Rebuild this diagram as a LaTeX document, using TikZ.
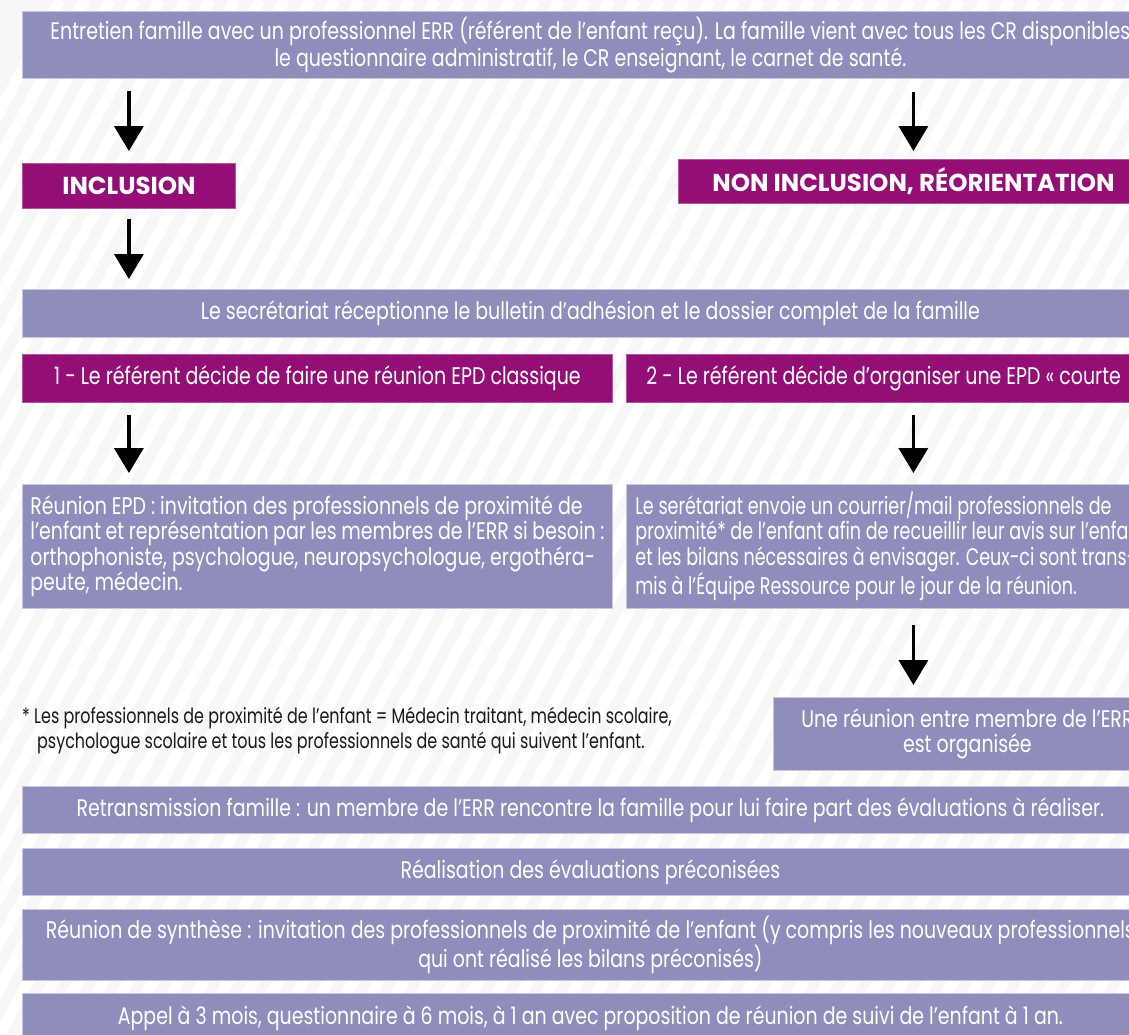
\documentclass[tikz,border=0pt]{standalone}
\usepackage{fontspec}
\setmainfont{Poppins}[FakeStretch=0.79]
\newfontfamily\headfont{Poppins}[FakeStretch=1.0]
\newfontfamily\notefont{Poppins}[FakeStretch=0.76]
\newfontfamily\narrowfont{Poppins}[FakeStretch=0.73]
\usetikzlibrary{arrows.meta}
\definecolor{lav}{RGB}{143,141,187}
\definecolor{lavedge}{RGB}{200,198,224}
\definecolor{mag}{RGB}{147,15,118}
\definecolor{bgc}{RGB}{247,247,247}
\tikzset{
  boxbase/.style={rectangle, anchor=north west, inner sep=0pt, text=white,
    draw=lavedge, line width=0.8pt},
  lavbox/.style={boxbase, fill=lav, font=\fontsize{24}{27}\selectfont, align=center},
  magbox/.style={boxbase, fill=mag, draw=mag!70!white, font=\fontsize{24}{27}\selectfont, align=center},
  headbox/.style={boxbase, fill=mag, draw=mag!70!white, font=\headfont\bfseries\fontsize{24.5}{28}\selectfont, align=center},
  leftbox/.style={boxbase, fill=lav, font=\fontsize{24}{25.5}\selectfont, align=flush left},
  arr/.style={draw=black, line width=3.6pt, -{Triangle[width=29pt,length=25pt]}},
  stripe/.style={draw=white, line width=11pt},
  note/.style={anchor=north west, inner sep=0pt, align=flush left, text=black!90,
    font=\notefont\fontsize{21}{25}\selectfont}
}
\begin{document}
\begin{tikzpicture}[x=1pt,y=-1pt]
\useasboundingbox (0,0) rectangle (1129,1034);
\begin{scope}
\clip (0,0) rectangle (1129,1034);
\fill[bgc] (0,0) rectangle (1129,1034);
\foreach \i in {-20,...,46} {
  \draw[stripe] (\i*25,1034) -- ++(560,-1034);
}

% boxes
\node[lavbox, minimum width=1136pt, minimum height=67pt] (top) at (22,11)
  {Entretien famille avec un professionnel ERR (référent de l’enfant reçu). La famille vient avec tous les CR disponibles\\
   le questionnaire administratif, le CR enseignant, le carnet de santé.};

\node[headbox, minimum width=213pt, minimum height=45pt] (incl) at (22,163) {INCLUSION};
\node[headbox, minimum width=470pt, minimum height=44pt] (noninc) at (678,159) {NON INCLUSION, RÉORIENTATION};

\node[lavbox, minimum width=1136pt, minimum height=48pt] (sec) at (22,289)
  {Le secrétariat réceptionne le bulletin d’adhésion et le dossier complet de la famille};

\node[magbox, minimum width=590pt, minimum height=48pt] (b1) at (22,354)
  {1 - Le référent décide de faire une réunion EPD classique};
\node[magbox, minimum width=532pt, minimum height=48pt, text width=492pt, align=flush left, inner xsep=20pt] (b2) at (626,354)
  {2 - Le référent décide d’organiser une EPD « courte};

\node[leftbox, minimum width=590pt, minimum height=124pt, text width=574pt, inner xsep=8pt] (r1) at (22,484)
  {Réunion EPD : invitation des professionnels de proximité de\\
   l’enfant et représentation par les membres de l’ERR si besoin :\\
   orthophoniste, psychologue, neuropsychologue, ergothéra-\\
   peute, médecin.};
\node[leftbox, minimum width=532pt, minimum height=124pt, text width=620pt, inner xsep=9pt,
      font=\narrowfont\fontsize{24}{25.5}\selectfont] (r2) at (626,484)
  {Le serétariat envoie un courrier/mail professionnels de\\
   proximité* de l’enfant afin de recueillir leur avis sur l’enfant\\
   et les bilans nécessaires à envisager. Ceux-ci sont trans-\\
   mis à l’Équipe Ressource pour le jour de la réunion.};

\node[lavbox, minimum width=388pt, minimum height=73pt, font=\fontsize{24}{25}\selectfont] (une) at (773,697)
  {Une réunion entre membre de l’ERR\\est organisée};

\node[note] (fn) at (22,707)
  {* Les professionnels de proximité de l’enfant = Médecin traitant, médecin scolaire,\\
   \hspace*{15pt}psychologue scolaire et tous les professionnels de santé qui suivent l’enfant.};

\node[lavbox, minimum width=1136pt, minimum height=47pt] (retr) at (22,786)
  {Retransmission famille : un membre de l’ERR rencontre la famille pour lui faire part des évaluations à réaliser.};
\node[lavbox, minimum width=1136pt, minimum height=47pt] (real) at (22,848)
  {Réalisation des évaluations préconisées};
\node[lavbox, minimum width=1136pt, minimum height=71pt] (synth) at (22,909)
  {Réunion de synthèse : invitation des professionnels de proximité de l’enfant (y compris les nouveaux professionnels\\
   qui ont réalisé les bilans préconisés)};
\node[lavbox, minimum width=1136pt, minimum height=50pt] (appel) at (22,993)
  {Appel à 3 mois, questionnaire à 6 mois, à 1 an avec proposition de réunion de suivi de l’enfant à 1 an.};

% arrows
\draw[arr, shorten <=12pt, shorten >=12pt] (top.south -| incl.north) -- (incl.north);
\draw[arr, shorten <=13pt, shorten >=8pt] (top.south -| noninc.north) -- (noninc.north);
\draw[arr, shorten <=10pt, shorten >=10pt] (incl.south) -- (incl.south |- sec.north);
\draw[arr, shorten <=12pt, shorten >=11pt] (b1.south -| incl.south) -- (r1.north -| incl.south);
\draw[arr, shorten <=12pt, shorten >=11pt] (b2.south -| noninc.south) -- (r2.north -| noninc.south);
\draw[arr, shorten <=16pt, shorten >=12pt] (r2.south -| noninc.south) -- (une.north -| noninc.south);
\end{scope}
\end{tikzpicture}
\end{document}
